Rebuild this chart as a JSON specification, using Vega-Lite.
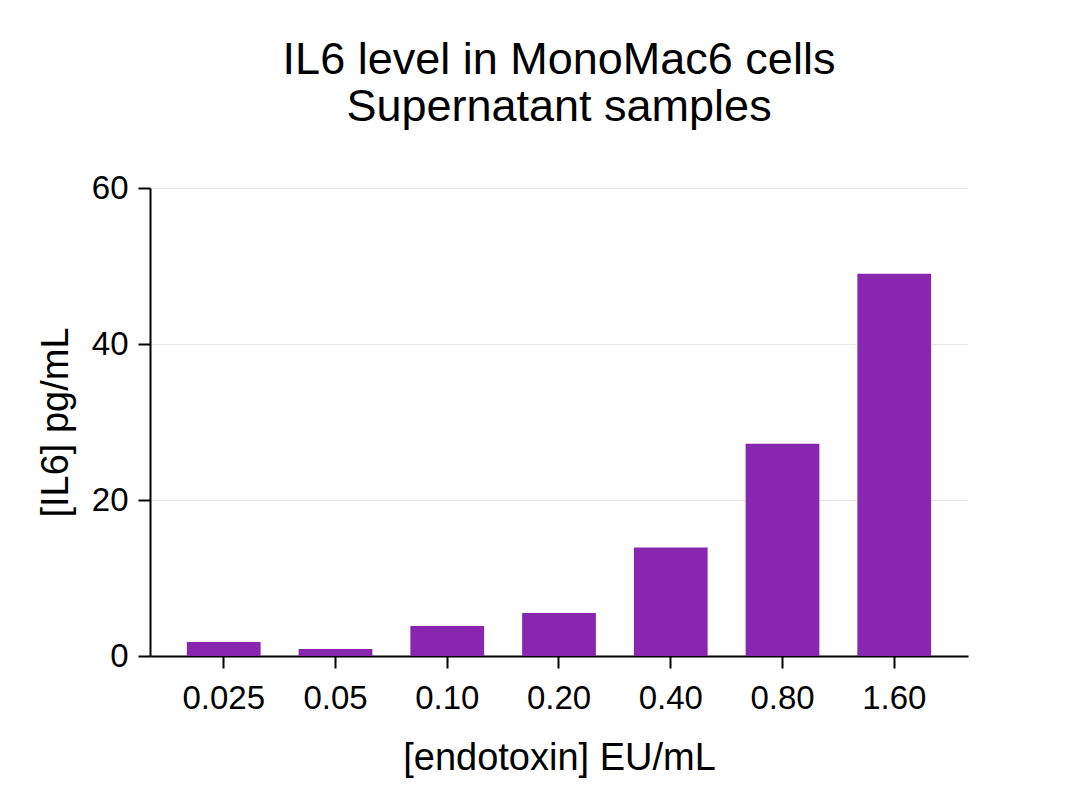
{
  "$schema": "https://vega.github.io/schema/vega-lite/v6.json",
  "autosize": {"type": "none"},
  "padding": {"left": 150, "top": 188, "right": 112, "bottom": 155},
  "width": 818,
  "height": 468,
  "background": "white",
  "title": {
    "text": ["IL6 level in MonoMac6 cells", "Supernatant samples"],
    "anchor": "middle",
    "font": "Liberation Sans",
    "fontSize": 45,
    "fontWeight": "normal",
    "lineHeight": 47,
    "color": "black",
    "offset": 42
  },
  "data": {
    "values": [
      {"dose": "0.025", "il6": 1.8},
      {"dose": "0.05", "il6": 0.9},
      {"dose": "0.10", "il6": 3.85},
      {"dose": "0.20", "il6": 5.5},
      {"dose": "0.40", "il6": 13.9},
      {"dose": "0.80", "il6": 27.2},
      {"dose": "1.60", "il6": 49.0}
    ]
  },
  "mark": {"type": "bar", "color": "#8826B0"},
  "encoding": {
    "x": {
      "field": "dose",
      "type": "ordinal",
      "sort": null,
      "scale": {"paddingInner": 0.34, "paddingOuter": 0.33},
      "axis": {
        "title": "[endotoxin] EU/mL",
        "labelAngle": 0,
        "tickSize": 12,
        "labelPadding": 14,
        "titlePadding": 24
      }
    },
    "y": {
      "field": "il6",
      "type": "quantitative",
      "scale": {"domain": [0, 60]},
      "axis": {
        "title": "[IL6] pg/mL",
        "values": [0, 20, 40, 60],
        "tickSize": 12,
        "labelPadding": 10,
        "titlePadding": 16,
        "grid": true
      }
    }
  },
  "config": {
    "view": {"stroke": null},
    "axis": {
      "domainColor": "black",
      "domainWidth": 2,
      "tickColor": "black",
      "tickWidth": 2,
      "labelFont": "Liberation Sans",
      "labelFontSize": 33,
      "labelColor": "black",
      "titleFont": "Liberation Sans",
      "titleFontSize": 38,
      "titleFontWeight": "normal",
      "titleColor": "black",
      "gridColor": "#e8e8e8",
      "gridWidth": 1
    },
    "axisX": {"grid": false}
  }
}
